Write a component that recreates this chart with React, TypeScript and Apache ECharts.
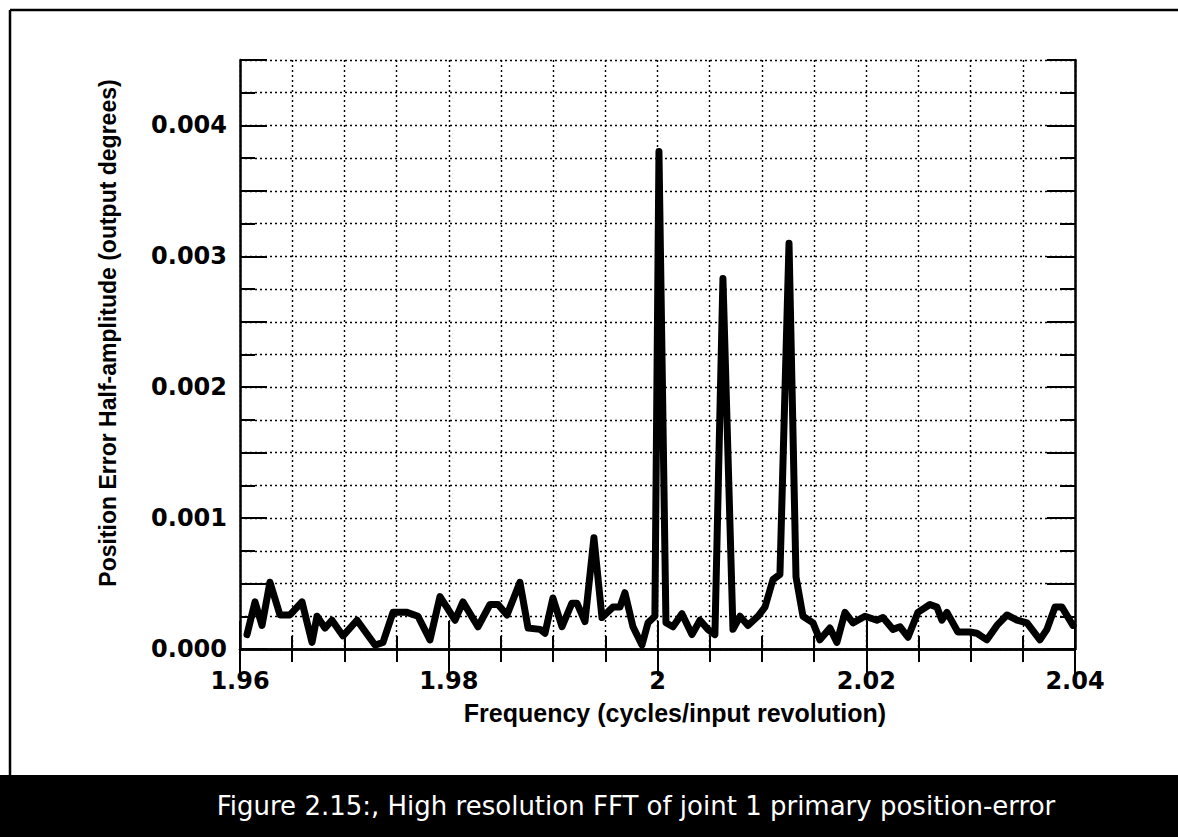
import React, { useEffect, useRef } from "react";
import * as echarts from "echarts";

const freq = [
  1.96067, 1.96144, 1.96211, 1.96287, 1.96383, 1.96479, 1.96594, 1.9669, 1.96738, 1.96814,
  1.96881, 1.96987, 1.97121, 1.97293, 1.9737, 1.97466, 1.976, 1.97705, 1.9782, 1.97916,
  1.9806, 1.98136, 1.9828, 1.98395, 1.98472, 1.98558, 1.98682, 1.9876, 1.98874, 1.98922,
  1.98998, 1.99085, 1.9918, 1.99228, 1.99305, 1.99391, 1.99468, 1.99573, 1.9964, 1.99688,
  1.99765, 1.99851, 1.99909, 1.99975, 2.00014, 2.00081, 2.00148, 2.00234, 2.0033, 2.00407,
  2.00483, 2.0055, 2.00627, 2.00723, 2.0079, 2.00867, 2.00962, 2.0103, 2.01106, 2.01173,
  2.0126, 2.01327, 2.01394, 2.0149, 2.01556, 2.01652, 2.01719, 2.01796, 2.01873, 2.01988,
  2.02102, 2.0216, 2.02256, 2.02323, 2.024, 2.02495, 2.0261, 2.02677, 2.02725, 2.02773,
  2.02878, 2.02993, 2.0306, 2.03156, 2.03252, 2.03348, 2.03444, 2.0354, 2.03664, 2.03731,
  2.03808, 2.03875, 2.0398,
];

const amplitude = [
  0.00011, 0.00036, 0.00018, 0.00051, 0.00026, 0.00026, 0.00036, 0.00005, 0.00025, 0.00016,
  0.00022, 0.0001, 0.00022, 0.00003, 0.00005, 0.00028, 0.00028, 0.00025, 0.00007, 0.0004,
  0.00022, 0.00036, 0.00017, 0.00034, 0.00034, 0.00026, 0.00051, 0.00016, 0.00015, 0.00012,
  0.00039, 0.00017, 0.00035, 0.00035, 0.00021, 0.00085, 0.00024, 0.00032, 0.00032, 0.00043,
  0.00017, 0.00003, 0.0002, 0.00025, 0.0038, 0.0002, 0.00017, 0.00027, 0.00011, 0.00022,
  0.00015, 0.00011, 0.00283, 0.00015, 0.00025, 0.00018, 0.00025, 0.00032, 0.00053, 0.00057,
  0.0031, 0.00055, 0.00025, 0.0002, 0.00007, 0.00016, 0.00005, 0.00028, 0.0002, 0.00025,
  0.00022, 0.00024, 0.00015, 0.00017, 0.00009, 0.00028, 0.00034, 0.00032, 0.00022, 0.00028,
  0.00013, 0.00013, 0.00012, 0.00007, 0.00018, 0.00026, 0.00022, 0.0002, 0.00007, 0.00015,
  0.00032, 0.00032, 0.00018,
];

const xTitle = "Frequency (cycles/input revolution)";
const yTitle = "Position Error Half-amplitude (output degrees)";
const caption = "Figure 2.15:, High resolution FFT of joint 1 primary position-error";

const FONT = "Liberation Sans, Arial, Helvetica, sans-serif";
const WIDE = "DejaVu Sans, Verdana, sans-serif";

export default function App() {
  const ref = useRef<HTMLDivElement>(null);

  useEffect(() => {
    if (!ref.current) return;
    const chart = echarts.init(ref.current, undefined, { renderer: "svg" });
    const dotted = { color: "#000", width: 1.4, type: [2, 3] as any };
    const tickStyle = { color: "#000", width: 2 };
    const axisLine = { show: true, lineStyle: { color: "#000", width: 2.5 } };

    const xBase = {
      type: "value",
      min: 1.96,
      max: 2.04,
      interval: 0.02,
      axisLine,
    };
    const yBase = {
      type: "value",
      min: 0,
      max: 0.0045,
      interval: 0.0005,
      axisLine,
    };

    chart.setOption({
      animation: false,
      backgroundColor: "#fff",
      grid: { left: 240, top: 60, right: 103, bottom: 188, containLabel: false },
      xAxis: [
        {
          ...xBase,
          position: "bottom",
          axisTick: { show: true, inside: true, length: 28, lineStyle: tickStyle },
          minorTick: { show: true, splitNumber: 4, length: 13, lineStyle: tickStyle },
          splitLine: { show: true, lineStyle: dotted },
          minorSplitLine: { show: true, lineStyle: dotted },
          axisLabel: {
            show: true,
            margin: 20,
            color: "#000",
            fontSize: 24,
            fontWeight: "bold",
            fontFamily: WIDE,
            formatter: (v: number) => String(parseFloat(v.toFixed(2))),
          },
        },
        {
          ...xBase,
          position: "top",
          axisTick: { show: true, inside: true, length: 27, lineStyle: tickStyle },
          minorTick: { show: true, splitNumber: 4, length: 13, lineStyle: tickStyle },
          splitLine: { show: false },
          axisLabel: { show: false },
        },
      ],
      yAxis: [
        {
          ...yBase,
          position: "left",
          axisTick: { show: true, inside: true, length: 27, lineStyle: tickStyle },
          minorTick: { show: true, splitNumber: 2, length: 15, lineStyle: tickStyle },
          splitLine: { show: true, lineStyle: dotted },
          minorSplitLine: { show: true, lineStyle: dotted },
          axisLabel: {
            show: true,
            margin: 13,
            color: "#000",
            fontSize: 24,
            fontWeight: "bold",
            fontFamily: WIDE,
            formatter: (v: number) => {
              const k = v * 1000;
              return Math.abs(k - Math.round(k)) < 1e-6 ? v.toFixed(3) : "";
            },
          },
        },
        {
          ...yBase,
          position: "right",
          axisTick: { show: true, inside: true, length: 28, lineStyle: tickStyle },
          minorTick: { show: true, splitNumber: 2, length: 15, lineStyle: tickStyle },
          splitLine: { show: false },
          axisLabel: { show: false },
        },
      ],
      series: [
        {
          type: "line",
          xAxisIndex: 0,
          yAxisIndex: 0,
          data: freq.map((f, i) => [f, amplitude[i]]),
          showSymbol: false,
          symbol: "none",
          lineStyle: { color: "#000", width: 7, cap: "round", join: "round" },
          z: 5,
        },
      ],
      graphic: [
        {
          type: "line",
          shape: { x1: 10, y1: 10, x2: 1178, y2: 10 },
          style: { stroke: "#000", lineWidth: 2.5 },
        },
        {
          type: "line",
          shape: { x1: 10, y1: 10, x2: 10, y2: 775 },
          style: { stroke: "#000", lineWidth: 2.5 },
        },
        {
          type: "rect",
          shape: { x: 0, y: 775, width: 1178, height: 62 },
          style: { fill: "#000" },
        },
        {
          type: "text",
          x: 636,
          y: 806,
          style: {
            text: caption,
            fill: "#fff",
            font: `26px ${WIDE}`,
            align: "center",
            verticalAlign: "middle",
          },
        },
        {
          type: "text",
          x: 675,
          y: 713,
          style: {
            text: xTitle,
            fill: "#000",
            font: `bold 25px ${FONT}`,
            align: "center",
            verticalAlign: "middle",
          },
        },
        {
          type: "text",
          x: 108,
          y: 333,
          rotation: Math.PI / 2,
          style: {
            text: yTitle,
            fill: "#000",
            font: `bold 23px ${FONT}`,
            align: "center",
            verticalAlign: "middle",
          },
        },
      ],
    });
    return () => chart.dispose();
  }, []);

  return (
    <div
      ref={ref}
      style={{ position: "absolute", left: 0, top: 0, width: 1178, height: 837, background: "#fff" }}
    />
  );
}
